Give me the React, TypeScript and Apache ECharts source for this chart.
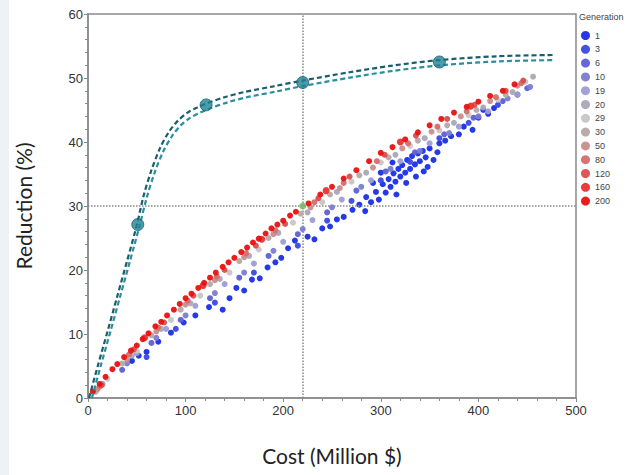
import React, { useEffect, useRef } from "react";
import * as echarts from "echarts";

const generations = ["1", "3", "6", "10", "19", "20", "29", "30", "50", "80", "120", "160", "200"];
const genColors = ["#1a2ee6", "#3a48e0", "#5c5fd4", "#7b7cd0", "#9c9dd4", "#a8a8b6", "#c6c6c6", "#b5a8a8", "#c98d8d", "#d46d6d", "#dc4c4c", "#e83232", "#e8110f"];

const gen1 = [[45,5.8],[52,6.6],[60,7.2],[72,8.8],[85,10.2],[98,11.8],[110,12.9],[124,14.2],[138,13.8],[145,15.6],[152,17.2],[160,16.8],[168,18.5],[176,18.7],[184,20.4],[192,21.2],[198,21.9],[205,23.4],[212,24.6],[225,25.2],[232,24.8],[240,26.5],[248,26.8],[255,27.9],[262,28.3],[271,29.4],[278,30.2],[285,31.4],[290,30.6],[295,32.2],[298,31],[302,33.4],[305,32.1],[308,34.2],[310,33],[313,35.1],[315,33.8],[318,35.8],[320,34.6],[322,36.4],[325,35.2],[327,37.2],[330,35.8],[332,37.8],[335,36.5],[338,38.2],[340,37],[343,38.6],[346,37.6],[350,39],[354,37.2],[358,38.4],[300,35.2],[312,36.8],[326,33.6],[336,34.6],[348,36.1],[292,33.6],[284,29.2],[316,31.8],[344,35.4],[360,39.8],[366,40.2],[372,40.9],[380,41.2],[385,42.4],[394,41.9],[400,43.8],[405,45],[410,44.4],[416,45.3]];
const gen3 = [[60,6.4],[90,10.8],[130,14.9],[170,19.6],[215,23.8],[245,27.7],[270,30.8],[300,34],[330,36.9],[360,40.6],[390,43],[420,45.8],[440,47.4]];
const gen6 = [[35,4.4],[65,8.6],[95,12.2],[125,15.6],[155,18.8],[185,22.2],[215,25.6],[245,29],[275,32.4],[305,35.4],[335,38.4],[365,41.2],[395,43.8],[425,46.4],[450,48.4]];
const gen10 = [[40,5.4],[70,9.4],[100,12.9],[130,16.4],[160,19.6],[190,23],[220,26.4],[250,29.8],[280,33],[310,35.8],[340,38.6],[370,41.4],[400,44],[430,46.8],[453,48.6]];
const gen19 = [[50,7],[80,10.8],[110,14.4],[140,17.8],[170,21],[200,24.4],[230,27.8],[260,31],[290,34],[320,37],[350,39.8],[380,42.4],[410,44.8],[440,47.4]];
const gen20 = [[15,2.2],[45,6.6],[75,10.8],[105,14.8],[135,18.6],[165,22.2],[195,25.8],[225,29],[255,32.2],[285,35.2],[315,38],[345,40.6],[375,43],[405,45.4],[435,47.8],[456,50.2]];
const gen29 = [[20,3],[50,7.4],[85,12.2],[115,16],[145,19.6],[175,23.2],[210,27.4],[240,30.6],[270,33.8],[300,36.8],[330,39.4],[360,41.8],[390,44.2],[420,46.6],[448,49.4]];
const gen30 = [[8,1],[35,5.4],[65,9.8],[95,13.8],[125,17.8],[155,21.4],[185,25],[218,28.8],[248,31.8],[278,34.8],[308,37.6],[338,40.2],[368,42.6],[398,45],[428,47.4]];
const gen50 = [[10,1.4],[40,6],[70,10.4],[100,14.6],[130,18.4],[160,22],[190,25.6],[228,29.8],[258,32.8],[292,36],[322,39],[352,41.6],[382,44],[412,46.4],[440,48.8]];
const gen80 = [[12,1.8],[42,6.8],[72,11],[102,15.2],[132,19],[162,22.6],[192,26.2],[232,30.6],[262,33.6],[296,37],[328,39.8],[358,42.4],[388,44.8],[418,47],[444,49.2]];
const gen120 = [[14,2],[47,7.6],[78,11.8],[108,16],[140,20],[172,23.8],[202,27.2],[236,31.2],[268,34.6],[304,38],[336,41],[368,43.6],[396,45.8],[428,48],[446,49.6]];
const gen160 = [[58,9.4],[118,17.6],[178,24.8],[244,32.4],[320,40],[392,45.6]];
const gen200 = [[5,1],[12,2.2],[18,3.3],[25,4.5],[30,5.3],[37,6.4],[44,7.4],[50,8.2],[56,9.2],[62,10.1],[69,11.2],[75,11.9],[81,12.9],[88,13.8],[94,14.7],[100,15.6],[106,16.3],[113,17.2],[119,18],[125,18.8],[131,19.6],[138,20.5],[144,21.2],[150,21.9],[157,22.8],[163,23.5],[169,24.3],[175,24.9],[182,25.7],[188,26.5],[194,27.1],[200,27.7],[207,28.5],[213,29.1],[226,30.4],[238,31.8],[250,33],[262,34.3],[275,35.6],[288,37],[300,38.3],[312,39.2],[325,40.4],[338,41.5],[350,42.6],[362,43.6],[375,44.6],[388,45.5],[400,46.3],[412,47.2],[425,48],[437,49]];
const genData = [gen1, gen3, gen6, gen10, gen19, gen20, gen29, gen30, gen50, gen80, gen120, gen160, gen200];

const frontierUpper = [[1,0],[10,5],[20,10.4],[30,15.9],[40,21.4],[50,27],[57,31.6],[65,35.6],[74,39.1],[83,41.6],[92,43.3],[102,44.6],[112,45.4],[121,46],[140,47],[160,47.8],[190,48.7],[220,49.6],[268,50.9],[310,51.9],[360,52.8],[420,53.4],[478,53.6]];
const frontierLower = [[4,0],[13,5],[23,10.4],[33,15.9],[43,21.4],[53,27],[60,31.2],[68,35.1],[77,38.5],[86,40.9],[95,42.6],[105,43.8],[115,44.6],[124,45.2],[143,46.2],[163,47],[193,47.9],[222,48.8],[270,50.1],[312,51.1],[362,52],[422,52.6],[478,52.8]];
const frontierMarkers = [[51,27.1],[121,45.8],[220,49.3],[360,52.5]];
const targetPoint = [[220,30]];
const refX = 220;
const refY = 30;

export default function App() {
  const ref = useRef<HTMLDivElement>(null);
  useEffect(() => {
    document.body.style.margin = "0";
    const chart = echarts.init(ref.current!, null, { renderer: "svg" });
    const scatterSeries = generations.map((g, i) => ({
      name: g,
      type: "scatter",
      data: genData[i],
      symbolSize: g === "160" ? 7 : 6,
      itemStyle: { color: genColors[i], opacity: 0.95 },
      z: 3 + i,
    }));
    chart.setOption({
      animation: false,
      backgroundColor: "#ffffff",
      grid: { left: 88, right: 53, top: 14, bottom: 77, show: true, borderColor: "#8a8a8a", borderWidth: 1.5 },
      xAxis: {
        type: "value", min: 0, max: 500, interval: 100,
        name: "Cost (Million $)", nameLocation: "middle", nameGap: 47,
        nameTextStyle: { fontFamily: "Lato", fontSize: 21, color: "#222" },
        axisLine: { show: true, lineStyle: { color: "#8a8a8a", width: 1.5 } },
        axisTick: { show: true, length: 4, lineStyle: { color: "#8a8a8a" } },
        minorTick: { show: true, splitNumber: 5, length: 3, lineStyle: { color: "#8a8a8a" } },
        axisLabel: { fontFamily: "Liberation Sans", fontSize: 13, color: "#333", margin: 6 },
        splitLine: { show: false },
      },
      yAxis: {
        type: "value", min: 0, max: 60, interval: 10,
        name: "Reduction (%)", nameLocation: "middle", nameGap: 54,
        nameTextStyle: { fontFamily: "Lato", fontSize: 21, color: "#222" },
        axisLine: { show: true, lineStyle: { color: "#8a8a8a", width: 1.5 } },
        axisTick: { show: true, length: 4, lineStyle: { color: "#8a8a8a" } },
        minorTick: { show: true, splitNumber: 5, length: 3, lineStyle: { color: "#8a8a8a" } },
        axisLabel: { fontFamily: "Liberation Sans", fontSize: 13, color: "#333", margin: 5 },
        splitLine: { show: false },
      },
      legend: {
        data: generations,
        orient: "vertical", left: 576, top: 26,
        icon: "circle", itemWidth: 9, itemHeight: 9, itemGap: 4.8,
        textStyle: { fontFamily: "Liberation Sans", fontSize: 9, color: "#444" },
      },
      graphic: [
        { type: "text", left: 579, top: 12, style: { text: "Generation", fontFamily: "Liberation Sans", fontSize: 9, fill: "#444" } },
        { type: "rect", left: 0, top: 0, shape: { width: 9, height: 475 }, style: { fill: "#eef1f6" } },
      ],
      series: [
        {
          name: "ref", type: "line", data: [], z: 1,
          markLine: {
            silent: true, symbol: "none", label: { show: false },
            lineStyle: { type: "dotted", color: "#888", width: 1.5 },
            data: [{ xAxis: refX }, { yAxis: refY }],
          },
        },
        ...scatterSeries,
        {
          name: "frontierUpper", type: "line", data: frontierUpper, smooth: 0.3, showSymbol: false,
          lineStyle: { color: "#1a5d6c", width: 2.2, type: [5, 3] }, z: 20,
        },
        {
          name: "frontierLower", type: "line", data: frontierLower, smooth: 0.3, showSymbol: false,
          lineStyle: { color: "#2a8e9f", width: 2.2, type: [5, 3] }, z: 20,
        },
        {
          name: "frontierMarkers", type: "scatter", data: frontierMarkers, symbolSize: 12,
          itemStyle: { color: "#1f8294", borderColor: "#17606e", borderWidth: 1 }, z: 21,
        },
        {
          name: "target", type: "scatter", data: targetPoint, symbolSize: 7,
          itemStyle: { color: "#66bb55" }, z: 22,
        },
      ],
    });
    return () => chart.dispose();
  }, []);
  return <div ref={ref} style={{ width: 629, height: 475 }} />;
}
